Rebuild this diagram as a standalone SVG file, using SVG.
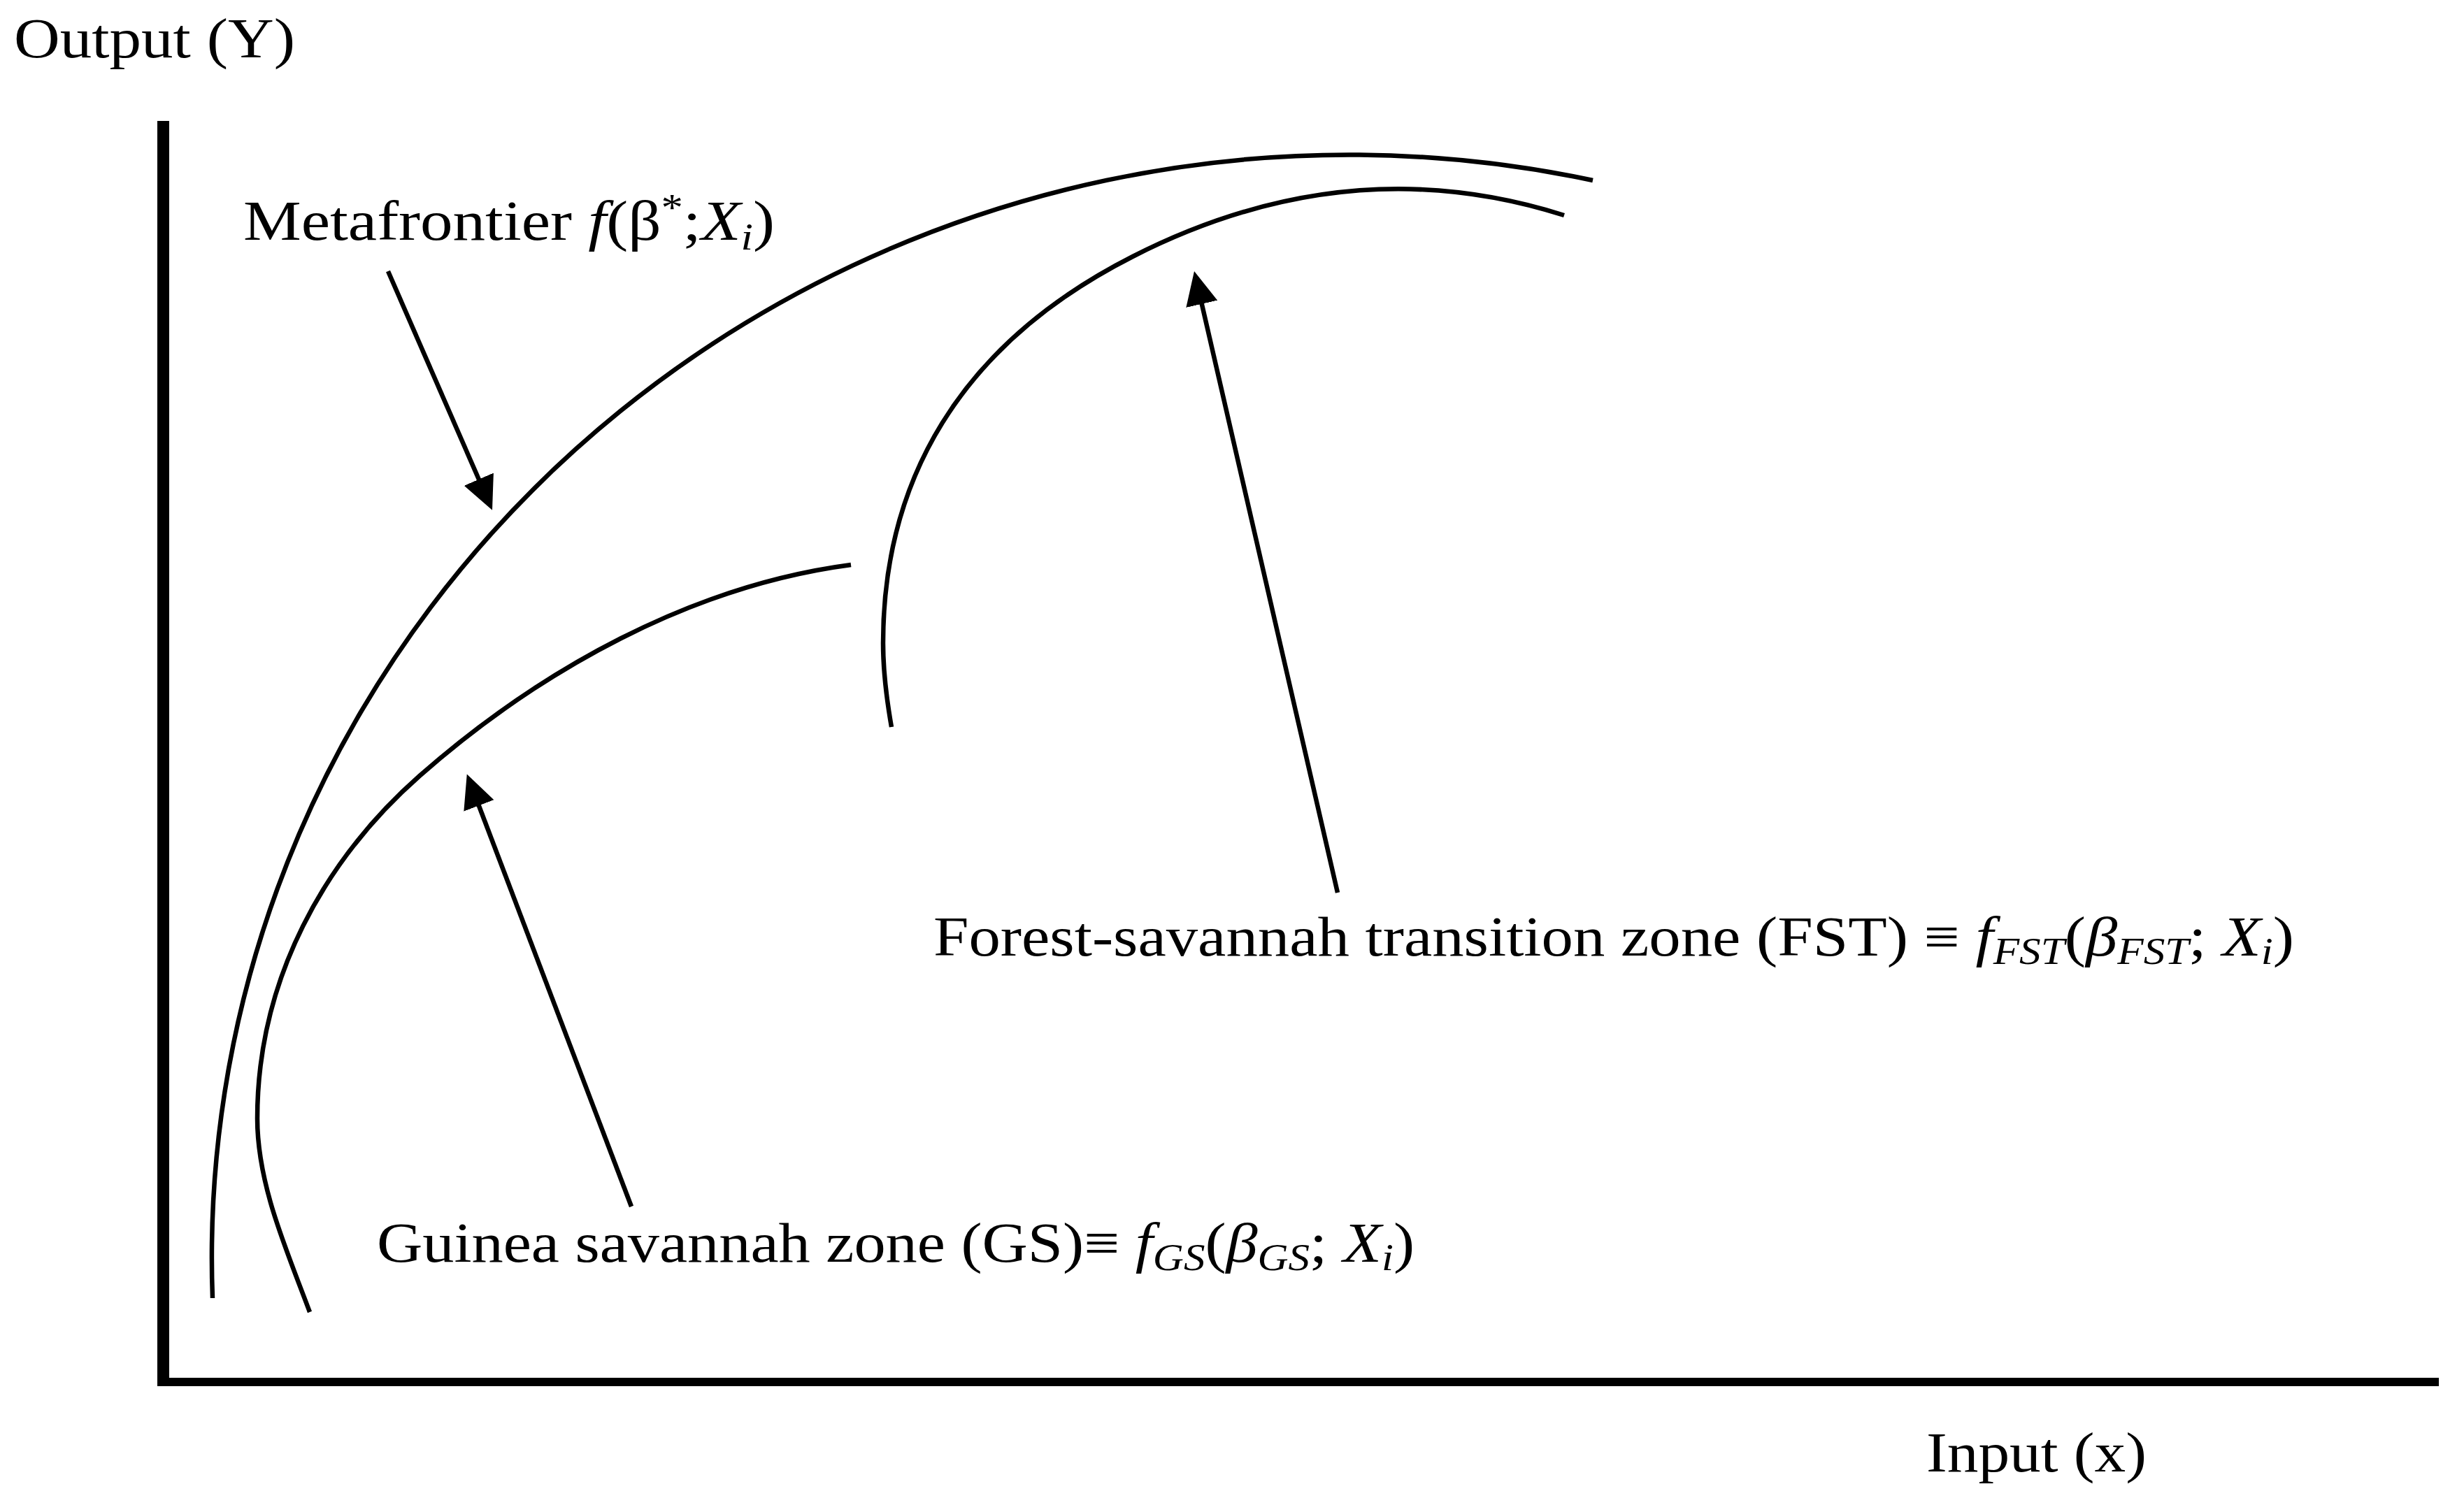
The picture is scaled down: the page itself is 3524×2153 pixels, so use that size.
<svg xmlns="http://www.w3.org/2000/svg" width="3524" height="2153" viewBox="0 0 3524 2153">
<style>
.lbl{font-family:"Liberation Serif","Times New Roman",serif;font-size:80px;fill:#000}
.it{font-style:italic}
.sub{font-size:54px}
.curve{fill:none;stroke:#000;stroke-width:6.5;stroke-linecap:butt}
.arrow{fill:none;stroke:#000;stroke-width:6.5;marker-end:url(#ah)}
.axis{fill:#000}
</style>
<defs>
<marker id="ah" markerUnits="userSpaceOnUse" markerWidth="50" markerHeight="48" refX="8" refY="23" orient="auto">
<path d="M0,0 L48,23 L0,46 Z" fill="#000"/>
</marker>
</defs>
<rect width="3524" height="2153" fill="#fff"/>
<g id="axes">
<rect class="axis" x="225" y="173" width="17" height="1810"/>
<rect class="axis" x="225" y="1971" width="3263" height="12"/>
<text class="lbl" x="20" y="82" textLength="402" lengthAdjust="spacingAndGlyphs">Output (Y)</text>
<text class="lbl" x="2755" y="2105" textLength="315" lengthAdjust="spacingAndGlyphs">Input (x)</text>
</g>
<g id="metafrontier">
<path class="curve" d="M304,1857 A1627,1578 0 0 1 2278,258"/>
<text class="lbl" x="348" y="343" textLength="760" lengthAdjust="spacingAndGlyphs">Metafrontier <tspan class="it">f</tspan>(β<tspan class="sub" dy="-28">*</tspan><tspan dy="28">;</tspan><tspan class="it">X</tspan><tspan class="sub it" dy="14">i</tspan><tspan dy="-14">)</tspan></text>
</g>
<g id="gs-frontier">
<path class="curve" d="M443,1877 C410,1788 368,1695 368,1600 C368,1400 465,1229 600,1110 C773,958 989,838 1217,808"/>
<text class="lbl" x="539" y="1805" textLength="1484" lengthAdjust="spacingAndGlyphs">Guinea savannah zone (GS)≡ <tspan class="it">f</tspan><tspan class="sub it" dy="12">GS</tspan><tspan dy="-12">(</tspan><tspan class="it">β</tspan><tspan class="sub it" dy="12">GS</tspan><tspan dy="-12">; </tspan><tspan class="it">X</tspan><tspan class="sub it" dy="12">i</tspan><tspan dy="-12">)</tspan></text>
</g>
<g id="fst-frontier">
<path class="curve" d="M1275,1040 C1268,1000 1263,960 1263,920 C1263,690 1370,494 1620,367 Q1928.5,210 2237,308"/>
<text class="lbl" x="1335" y="1367" textLength="1946" lengthAdjust="spacingAndGlyphs">Forest-savannah transition zone (FST) ≡ <tspan class="it">f</tspan><tspan class="sub it" dy="12">FST</tspan><tspan dy="-12">(</tspan><tspan class="it">β</tspan><tspan class="sub it" dy="12">FST</tspan><tspan dy="-12">; </tspan><tspan class="it">X</tspan><tspan class="sub it" dy="12">i</tspan><tspan dy="-12">)</tspan></text>
</g>
<g id="connectors">
<line class="arrow" x1="555" y1="388" x2="688" y2="693"/>
<line class="arrow" x1="1913" y1="1277" x2="1717" y2="427"/>
<line class="arrow" x1="903" y1="1726" x2="682" y2="1145"/>
</g>
</svg>
